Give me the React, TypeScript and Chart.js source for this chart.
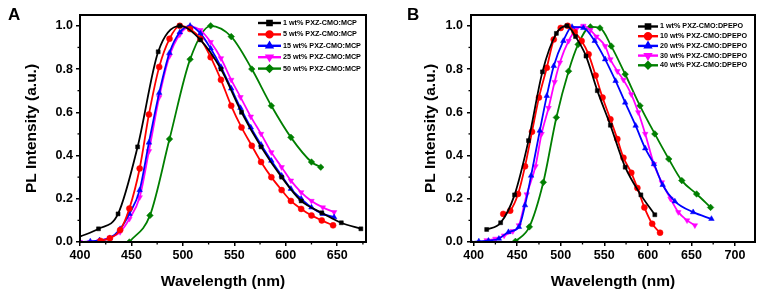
import { useEffect, useRef } from 'react';
import { Chart, registerables } from 'chart.js';
import { drawPoint } from 'chart.js/helpers';

Chart.register(...registerables);

// ---------- Panel A data (PXZ-CMO:MCP) ----------
const A_LABELS = [
  '1 wt% PXZ-CMO:MCP',
  '5 wt% PXZ-CMO:MCP',
  '15 wt% PXZ-CMO:MCP',
  '25 wt% PXZ-CMO:MCP',
  '50 wt% PXZ-CMO:MCP',
];
const A1_X = [400, 418, 437, 456, 476, 497, 517, 537, 557, 576, 596, 615, 635, 654, 673];
const A1_Y = [0.025, 0.061, 0.13, 0.44, 0.88, 1.0, 0.935, 0.8, 0.6, 0.44, 0.3, 0.19, 0.135, 0.089, 0.061];
const A2_X = [420, 429, 439, 448, 458, 467, 477, 487, 497, 507, 517, 527, 537, 547, 557, 567, 576, 586, 596, 605, 615, 625, 635, 646];
const A2_Y = [0.005, 0.017, 0.055, 0.155, 0.34, 0.59, 0.81, 0.94, 1.0, 0.985, 0.94, 0.855, 0.75, 0.63, 0.53, 0.445, 0.37, 0.3, 0.24, 0.19, 0.153, 0.123, 0.1, 0.077];
const A3_X = [400, 410, 419, 429, 439, 448, 458, 467, 477, 487, 497, 507, 517, 527, 537, 547, 556, 566, 576, 586, 596, 605, 615, 625, 636, 647];
const A3_Y = [0.0, 0.003, 0.008, 0.018, 0.06, 0.13, 0.24, 0.46, 0.69, 0.875, 0.97, 1.0, 0.965, 0.895, 0.81, 0.71, 0.62, 0.53, 0.45, 0.376, 0.307, 0.246, 0.2, 0.16, 0.13, 0.115];
const A4_X = [400, 410, 419, 429, 439, 448, 458, 467, 477, 487, 497, 507, 517, 527, 537, 547, 556, 566, 576, 586, 596, 605, 615, 625, 636, 647];
const A4_Y = [0.0, 0.0, 0.005, 0.02, 0.046, 0.107, 0.207, 0.42, 0.67, 0.86, 0.96, 0.995, 0.98, 0.925, 0.85, 0.75, 0.67, 0.58, 0.5, 0.415, 0.346, 0.284, 0.23, 0.19, 0.16, 0.138];
const A5_X = [448, 468, 487, 507, 527, 547, 567, 586, 605, 625, 634];
const A5_Y = [0.0, 0.123, 0.476, 0.845, 1.0, 0.95, 0.8, 0.63, 0.484, 0.37, 0.346];

// ---------- Panel B data (PXZ-CMO:DPEPO) ----------
const B_LABELS = [
  '1 wt% PXZ-CMO:DPEPO',
  '10 wt% PXZ-CMO:DPEPO',
  '20 wt% PXZ-CMO:DPEPO',
  '30 wt% PXZ-CMO:DPEPO',
  '40 wt% PXZ-CMO:DPEPO',
];
const B1_X = [415, 431, 447, 463, 479, 495, 507, 517, 529, 542, 557, 574, 592, 608];
const B1_Y = [0.058, 0.089, 0.218, 0.469, 0.787, 0.965, 1.0, 0.95, 0.86, 0.7, 0.54, 0.346, 0.218, 0.126];
const B2_X = [434, 442, 451, 459, 467, 475, 484, 492, 500, 508, 516, 524, 532, 540, 548, 557, 565, 572, 581, 588, 596, 605, 614];
const B2_Y = [0.13, 0.145, 0.222, 0.35, 0.51, 0.668, 0.806, 0.937, 0.99, 1.0, 0.97, 0.93, 0.868, 0.77, 0.668, 0.568, 0.476, 0.39, 0.32, 0.25, 0.16, 0.084, 0.043];
const B3_X = [397, 406, 417, 429, 440, 452, 459, 466, 476, 484, 492, 503, 513, 526, 539, 551, 563, 574, 586, 597, 607, 617, 631, 652, 673];
const B3_Y = [0.0, 0.003, 0.006, 0.015, 0.046, 0.07, 0.17, 0.307, 0.515, 0.676, 0.814, 0.93, 0.995, 0.99, 0.93, 0.845, 0.745, 0.645, 0.538, 0.433, 0.36, 0.264, 0.188, 0.138, 0.107];
const B4_X = [415, 425, 435, 445, 452, 461, 471, 478, 486, 493, 499, 509, 518, 526, 534, 541, 551, 557, 565, 572, 581, 589, 597, 607, 616, 626, 635, 645, 654];
const B4_Y = [0.008, 0.015, 0.03, 0.05, 0.077, 0.22, 0.35, 0.5, 0.62, 0.74, 0.83, 0.93, 0.985, 1.0, 0.98, 0.95, 0.906, 0.845, 0.79, 0.75, 0.683, 0.6, 0.5, 0.36, 0.276, 0.2, 0.138, 0.1, 0.077];
const B5_X = [448, 464, 480, 495, 509, 520, 534, 545, 558, 574, 591, 608, 624, 639, 656, 672];
const B5_Y = [0.003, 0.07, 0.276, 0.576, 0.79, 0.914, 0.995, 0.99, 0.906, 0.776, 0.63, 0.5, 0.384, 0.284, 0.222, 0.16];

const COLORS = ['#000000', '#ff0000', '#0000ff', '#ff00ff', '#007f00'];
const STYLES = ['rect', 'circle', 'triangle', 'triangle', 'rectRot'];
const ROTATIONS = [0, 0, 0, 180, 0];
const RADII = [2.8, 3, 3.2, 3.2, 3.3];

const FONT = '"Liberation Sans", Arial, Helvetica, sans-serif';

function zip(xs: number[], ys: number[]) {
  return xs.map((x, i) => ({ x, y: ys[i] }));
}

function makeDatasets(labels: string[], xs: number[][], ys: number[][], hideFirst: boolean[]) {
  return labels.map((label, i) => ({
    label,
    data: zip(xs[i], ys[i]),
    borderColor: COLORS[i],
    backgroundColor: COLORS[i],
    pointBackgroundColor: COLORS[i],
    pointBorderColor: COLORS[i],
    pointStyle: STYLES[i],
    pointRotation: ROTATIONS[i],
    pointRadius: xs[i].map((_, k) => (hideFirst[i] && k === 0 ? 0 : RADII[i])),
    pointBorderWidth: 0.5,
    borderWidth: 1.8,
    cubicInterpolationMode: 'monotone' as const,
    fill: false,
  }));
}

const framePlugin = {
  id: 'frame',
  afterDraw(chart: any, _args: any, opts: any) {
    const { ctx, chartArea: a, scales } = chart;
    ctx.save();
    ctx.strokeStyle = '#000';
    // minor ticks
    ctx.lineWidth = 1.3;
    const xs = scales.x;
    for (let v = Math.ceil(xs.min / opts.xMinor) * opts.xMinor; v <= xs.max + 1e-9; v += opts.xMinor) {
      const r = v / opts.xMajor;
      if (Math.abs(r - Math.round(r)) < 1e-6) continue;
      const px = xs.getPixelForValue(v);
      ctx.beginPath();
      ctx.moveTo(px, a.bottom);
      ctx.lineTo(px, a.bottom + opts.minorLen);
      ctx.stroke();
    }
    const ys = scales.y;
    for (let v = opts.yMinor; v <= ys.max + 1e-9; v += opts.yMinor) {
      const r = v / opts.yMajor;
      if (Math.abs(r - Math.round(r)) < 1e-6) continue;
      const py = ys.getPixelForValue(v);
      ctx.beginPath();
      ctx.moveTo(a.left, py);
      ctx.lineTo(a.left - opts.minorLen, py);
      ctx.stroke();
    }
    // frame
    ctx.lineWidth = 2;
    ctx.strokeRect(a.left, a.top, a.right - a.left, a.bottom - a.top);
    // panel letter
    ctx.fillStyle = '#000';
    ctx.font = `bold 17px ${FONT}`;
    ctx.textBaseline = 'alphabetic';
    ctx.textAlign = 'left';
    ctx.fillText(opts.letter, opts.letterX, opts.letterY);
    ctx.restore();
  },
};

const legendPlugin = {
  id: 'inlegend',
  afterDraw(chart: any, _args: any, opts: any) {
    const ctx = chart.ctx;
    ctx.save();
    chart.data.datasets.forEach((ds: any, i: number) => {
      const y = opts.y + i * opts.dy;
      ctx.strokeStyle = ds.borderColor;
      ctx.fillStyle = ds.borderColor;
      ctx.lineWidth = 2.4;
      ctx.beginPath();
      ctx.moveTo(opts.x, y);
      ctx.lineTo(opts.x + opts.len, y);
      ctx.stroke();
      drawPoint(
        ctx,
        { pointStyle: ds.pointStyle, rotation: ds.pointRotation || 0, radius: 3, borderWidth: 0.5 } as any,
        opts.x + opts.len / 2,
        y
      );
      ctx.fillStyle = '#000';
      ctx.font = `bold ${opts.fontSize}px ${FONT}`;
      ctx.textBaseline = 'middle';
      ctx.textAlign = 'left';
      ctx.fillText(ds.label, opts.x + opts.len + opts.gap, y);
    });
    ctx.restore();
  },
};

interface PanelCfg {
  datasets: any[];
  xMin: number;
  xMax: number;
  padRight: number;
  yAxisWidth: number;
  yTitlePad: number;
  yTickPad: number;
  letter: string;
  letterX: number;
  legend: { x: number; y: number; dy: number; len: number; gap: number; fontSize: number };
}

function buildConfig(p: PanelCfg): any {
  const tickFont = { family: FONT, size: 12.5, weight: 'bold' as const };
  const titleFont = { family: FONT, size: 15.5, weight: 'bold' as const };
  const grid = {
    display: true,
    drawOnChartArea: false,
    drawTicks: true,
    tickLength: 4,
    color: '#000',
    lineWidth: 1.5,
  };
  return {
    type: 'line',
    data: { datasets: p.datasets },
    plugins: [framePlugin, legendPlugin],
    options: {
      animation: false,
      responsive: false,
      devicePixelRatio: 1,
      parsing: true,
      layout: { padding: { top: 15, right: p.padRight, left: 0, bottom: 0 } },
      plugins: {
        legend: { display: false },
        tooltip: { enabled: false },
        frame: {
          xMinor: 25,
          xMajor: 50,
          yMinor: 0.1,
          yMajor: 0.2,
          minorLen: 2.5,
          letter: p.letter,
          letterX: p.letterX,
          letterY: 20,
        },
        inlegend: p.legend,
      },
      scales: {
        x: {
          type: 'linear',
          min: p.xMin,
          max: p.xMax,
          afterFit: (s: any) => {
            s.height = 55;
          },
          border: { display: false },
          grid,
          ticks: {
            stepSize: 50,
            includeBounds: false,
            autoSkip: false,
            maxRotation: 0,
            padding: 2,
            color: '#000',
            font: tickFont,
          },
          title: {
            display: true,
            text: 'Wavelength (nm)',
            color: '#000',
            font: titleFont,
            padding: { top: 0, bottom: 6 },
          },
        },
        y: {
          type: 'linear',
          min: 0,
          max: 1.05,
          afterFit: (s: any) => {
            s.width = p.yAxisWidth;
          },
          border: { display: false },
          grid,
          ticks: {
            stepSize: 0.2,
            includeBounds: false,
            padding: p.yTickPad,
            color: '#000',
            font: tickFont,
            callback: (v: number) => Number(v).toFixed(1),
          },
          title: {
            display: true,
            text: 'PL Intensity (a.u.)',
            color: '#000',
            font: titleFont,
            padding: { top: p.yTitlePad, bottom: 0 },
          },
        },
      },
    },
  };
}

function Panel({ cfg, left, width }: { cfg: PanelCfg; left: number; width: number }) {
  const ref = useRef<HTMLCanvasElement | null>(null);
  useEffect(() => {
    if (!ref.current) return;
    const chart = new Chart(ref.current, buildConfig(cfg));
    return () => chart.destroy();
  }, []);
  return (
    <canvas
      ref={ref}
      width={width}
      height={297}
      style={{ position: 'absolute', left, top: 0, width, height: 297 }}
    />
  );
}

export default function App() {
  const panelA: PanelCfg = {
    datasets: makeDatasets(
      A_LABELS,
      [A1_X, A2_X, A3_X, A4_X, A5_X],
      [A1_Y, A2_Y, A3_Y, A4_Y, A5_Y],
      [true, false, false, false, false]
    ),
    xMin: 400,
    xMax: 678,
    padRight: 395 - 366,
    yAxisWidth: 80,
    yTitlePad: 22,
    yTickPad: 3,
    letter: 'A',
    letterX: 8,
    legend: { x: 258, y: 23, dy: 11.4, len: 23, gap: 2, fontSize: 7.2 },
  };
  const panelB: PanelCfg = {
    datasets: makeDatasets(
      B_LABELS,
      [B1_X, B2_X, B3_X, B4_X, B5_X],
      [B1_Y, B2_Y, B3_Y, B4_Y, B5_Y],
      [false, false, false, false, false]
    ),
    xMin: 397,
    xMax: 723,
    padRight: 370 - 360,
    yAxisWidth: 76,
    yTitlePad: 26,
    yTickPad: 4,
    letter: 'B',
    letterX: 12,
    legend: { x: 243, y: 26.5, dy: 9.7, len: 20, gap: 2, fontSize: 7.2 },
  };
  return (
    <div style={{ position: 'fixed', left: 0, top: 0, width: 765, height: 297, background: '#fff' }}>
      <Panel cfg={panelA} left={0} width={395} />
      <Panel cfg={panelB} left={395} width={370} />
    </div>
  );
}
